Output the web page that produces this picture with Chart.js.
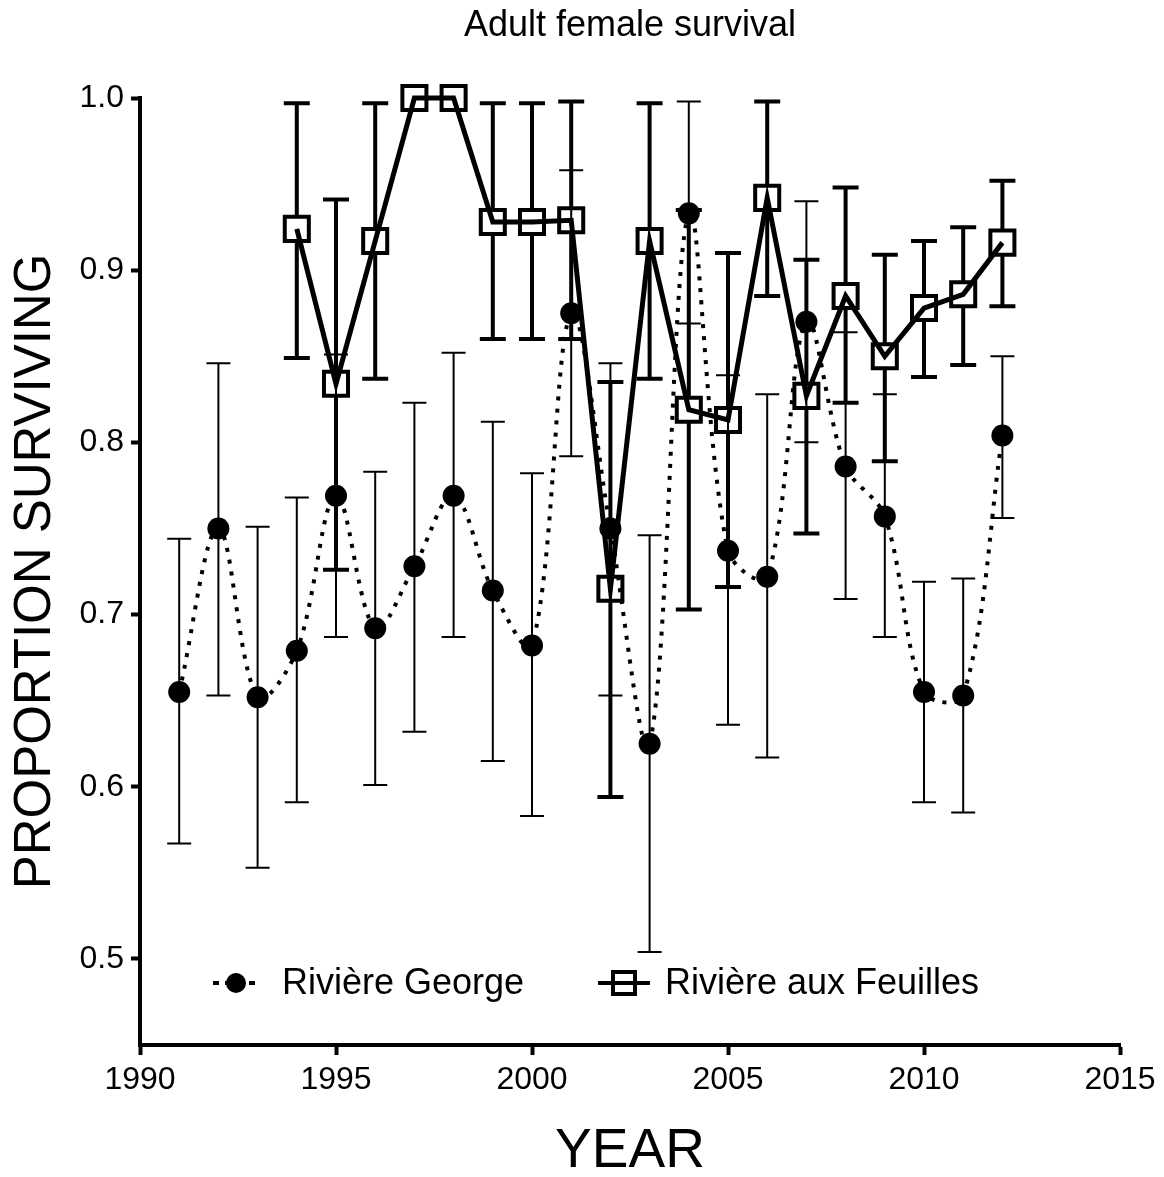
<!DOCTYPE html>
<html>
<head>
<meta charset="utf-8">
<title>Adult female survival</title>
<script src="https://cdn.jsdelivr.net/npm/chart.js@4.4.1/dist/chart.umd.min.js"></script>
<style>
  html, body { margin: 0; padding: 0; background: #fff; }
  .wrapper { width: 1164px; height: 1177px; }
</style>
</head>
<body>
<div class="wrapper"><canvas id="myChart" width="1164" height="1177"></canvas></div>
<script>
// Données
const georgeYears = [1991, 1992, 1993, 1994, 1995, 1996, 1997, 1998, 1999, 2000, 2001,
  2002, 2003, 2004, 2005, 2006, 2007, 2008, 2009, 2010, 2011, 2012];
const georgeValues = [0.655, 0.750, 0.652, 0.679, 0.769, 0.692, 0.728, 0.769, 0.714, 0.682, 0.875,
  0.750, 0.625, 0.933, 0.737, 0.722, 0.870, 0.786, 0.757, 0.655, 0.653, 0.804];
const georgeLower = [0.567, 0.653, 0.553, 0.591, 0.687, 0.601, 0.632, 0.687, 0.615, 0.583, 0.792,
  0.653, 0.504, 0.869, 0.636, 0.617, 0.800, 0.709, 0.687, 0.591, 0.585, 0.756];
const georgeUpper = [0.744, 0.846, 0.751, 0.768, 0.851, 0.783, 0.823, 0.852, 0.812, 0.782, 0.958,
  0.846, 0.746, 0.998, 0.839, 0.828, 0.940, 0.864, 0.828, 0.719, 0.721, 0.850];

const feuillesYears = [1994, 1995, 1996, 1997, 1998, 1999, 2000, 2001, 2002, 2003,
  2004, 2005, 2006, 2007, 2008, 2009, 2010, 2011, 2012];
const feuillesValues = [0.924, 0.834, 0.917, 1.000, 1.000, 0.928, 0.928, 0.929, 0.715, 0.917,
  0.819, 0.813, 0.942, 0.827, 0.885, 0.850, 0.878, 0.886, 0.916];
const feuillesLower = [0.849, 0.726, 0.837, 1.000, 1.000, 0.860, 0.860, 0.860, 0.594, 0.837,
  0.703, 0.716, 0.885, 0.747, 0.823, 0.789, 0.838, 0.845, 0.879];
const feuillesUpper = [0.997, 0.941, 0.997, 1.000, 1.000, 0.997, 0.997, 0.998, 0.835, 0.997,
  0.935, 0.910, 0.998, 0.906, 0.948, 0.909, 0.917, 0.925, 0.952];

const yTicks = [0.5, 0.6, 0.7, 0.8, 0.9, 1.0];
const seriesNames = ["Rivière George", "Rivière aux Feuilles"];
const chartTitle = "Adult female survival";

const FONT = "'Liberation Sans', Arial, sans-serif";
Chart.defaults.color = "#000";
Chart.defaults.font.family = FONT;

// Barres d'erreur, dessinées sous les marqueurs
const errorBars = {
  id: "errorBars",
  beforeDatasetsDraw(chart) {
    const ctx = chart.ctx;
    const x = chart.scales.x;
    const y = chart.scales.y;
    chart.data.datasets.forEach(function (ds) {
      ctx.save();
      ctx.strokeStyle = "#000";
      ctx.lineWidth = ds.errWidth;
      ds.data.forEach(function (p, i) {
        const lo = ds.errLow[i];
        const hi = ds.errHigh[i];
        if (hi - lo < 1e-6) return;
        const px = x.getPixelForValue(p.x);
        const py = y.getPixelForValue(p.y);
        const pLo = y.getPixelForValue(lo);
        const pHi = y.getPixelForValue(hi);
        const half = ds.capWidth / 2;
        ctx.beginPath();
        ctx.moveTo(px, pHi);
        ctx.lineTo(px, py - ds.gap);
        ctx.moveTo(px, py + ds.gap);
        ctx.lineTo(px, pLo);
        ctx.moveTo(px - half, pHi);
        ctx.lineTo(px + half, pHi);
        ctx.moveTo(px - half, pLo);
        ctx.lineTo(px + half, pLo);
        ctx.stroke();
      });
      ctx.restore();
    });
  },
};

// Titre centré sur la zone du graphique + légende à l'intérieur
const insideLegend = {
  id: "insideLegend",
  afterDraw(chart) {
    const ctx = chart.ctx;
    const area = chart.chartArea;
    const left = area.left;
    const ly = 983;
    ctx.save();
    ctx.fillStyle = "#000";
    ctx.font = "36px " + FONT;
    ctx.textAlign = "center";
    ctx.textBaseline = "middle";
    ctx.fillText(chartTitle, (area.left + area.right) / 2, 26);

    ctx.strokeStyle = "#000";
    // Rivière George
    ctx.lineWidth = 4;
    ctx.setLineDash([6, 6]);
    ctx.beginPath();
    ctx.moveTo(left + 73, ly);
    ctx.lineTo(left + 120, ly);
    ctx.stroke();
    ctx.setLineDash([]);
    ctx.beginPath();
    ctx.arc(left + 96, ly, 10, 0, Math.PI * 2);
    ctx.fill();

    // Rivière aux Feuilles
    ctx.lineWidth = 4;
    ctx.beginPath();
    ctx.moveTo(left + 458, ly);
    ctx.lineTo(left + 510, ly);
    ctx.stroke();
    ctx.strokeRect(left + 473, ly - 11, 22, 22);

    ctx.font = "36px " + FONT;
    ctx.textAlign = "left";
    ctx.fillText(seriesNames[0], left + 142, ly + 1);
    ctx.fillText(seriesNames[1], left + 525, ly + 1);
    ctx.restore();
  },
};

const ctx = document.getElementById("myChart");

new Chart(ctx, {
  type: "line",
  data: {
    datasets: [
      {
        label: seriesNames[0],
        data: georgeYears.map((yr, i) => ({ x: yr, y: georgeValues[i] })),
        errLow: georgeLower,
        errHigh: georgeUpper,
        errWidth: 2,
        capWidth: 24,
        gap: 0,
        borderColor: "#000",
        backgroundColor: "#000",
        borderWidth: 4,
        borderDash: [4, 8],
        tension: 0.35,
        pointStyle: "circle",
        pointRadius: 11,
        pointBackgroundColor: "#000",
        pointBorderWidth: 0,
        clip: false,
      },
      {
        label: seriesNames[1],
        data: feuillesYears.map((yr, i) => ({ x: yr, y: feuillesValues[i] })),
        errLow: feuillesLower,
        errHigh: feuillesUpper,
        errWidth: 4,
        capWidth: 26,
        gap: 12,
        borderColor: "#000",
        backgroundColor: "rgba(0,0,0,0)",
        borderWidth: 5,
        tension: 0,
        pointStyle: "rect",
        pointRadius: 17,
        pointBorderWidth: 4,
        pointBorderColor: "#000",
        pointBackgroundColor: "rgba(0,0,0,0)",
        clip: false,
      },
    ],
  },
  options: {
    responsive: false,
    animation: false,
    events: [],
    layout: { padding: { top: 98, right: 44, bottom: 0, left: 0 } },
    plugins: {
      legend: { display: false },
      tooltip: { enabled: false },
      title: { display: false },
    },
    scales: {
      x: {
        type: "linear",
        min: 1990,
        max: 2015,
        afterFit(scale) { scale.height = 132; },
        ticks: { stepSize: 5, font: { size: 32 }, color: "#000", padding: 6,
          callback: (v) => String(v) },
        grid: { drawOnChartArea: false, drawTicks: true, tickLength: 10, tickWidth: 4, tickColor: "#000" },
        border: { display: true, width: 4, color: "#000" },
        title: { display: true, text: "YEAR", color: "#000", font: { size: 55 }, padding: { top: 0, bottom: -8 } },
      },
      y: {
        min: 0.45,
        max: 1.0,
        afterFit(scale) { scale.width = 140; },
        afterBuildTicks(scale) { scale.ticks = yTicks.map((v) => ({ value: v })); },
        ticks: { font: { size: 32 }, color: "#000", padding: 7,
          callback: (v) => v.toFixed(1) },
        grid: { drawOnChartArea: false, drawTicks: true, tickLength: 9, tickWidth: 4, tickColor: "#000" },
        border: { display: true, width: 4, color: "#000" },
        title: { display: true, text: "PROPORTION SURVIVING", color: "#000", font: { size: 51 }, padding: { top: 5, bottom: 0 } },
      },
    },
  },
  plugins: [errorBars, insideLegend],
});
</script>
</body>
</html>
